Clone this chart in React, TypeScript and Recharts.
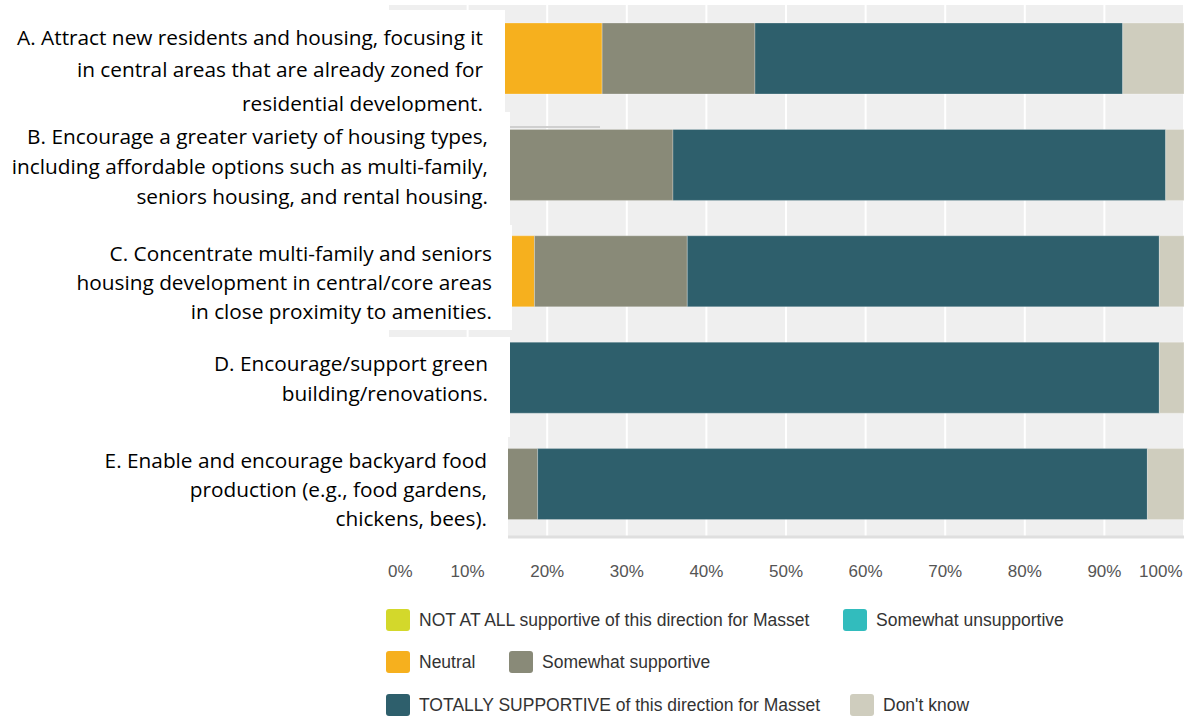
import React from "react";
import { BarChart, Bar, XAxis, YAxis, CartesianGrid } from "recharts";

// survey questions (rows of the chart)
const CATEGORIES = ["A", "B", "C", "D", "E"];

const LABEL_LINES = [
  ["A. Attract new residents and housing, focusing it", "in central areas that are already zoned for", "residential development."],
  ["B. Encourage a greater variety of housing types,", "including affordable options such as multi-family,", "seniors housing, and rental housing."],
  ["C. Concentrate multi-family and seniors", "housing development in central/core areas", "in close proximity to amenities."],
  ["D. Encourage/support green", "building/renovations."],
  ["E. Enable and encourage backyard food", "production (e.g., food gardens,", "chickens, bees)."],
];

// percent of responses per answer (left part of each bar is hidden under the label boxes)
const NOT_AT_ALL = [3.8, 0, 6.3, 3.1, 4.6];
const SOMEWHAT_UNSUPPORTIVE = [7.7, 2.2, 6.3, 0, 0];
const NEUTRAL = [15.4, 4.4, 5.8, 3.1, 4.6];
const SOMEWHAT_SUPPORTIVE = [19.2, 29.2, 19.2, 3.2, 9.6];
const TOTALLY = [46.2, 61.9, 59.3, 87.5, 76.6];
const DONT_KNOW = [7.7, 2.3, 3.1, 3.1, 4.6];

const X_TICKS = [0, 10, 20, 30, 40, 50, 60, 70, 80, 90, 100];

const SERIES = [
  { key: "notAtAll", name: "NOT AT ALL supportive of this direction for Masset", color: "#d3d82b", values: NOT_AT_ALL },
  { key: "unsupportive", name: "Somewhat unsupportive", color: "#32bcbd", values: SOMEWHAT_UNSUPPORTIVE },
  { key: "neutral", name: "Neutral", color: "#f6b01e", values: NEUTRAL },
  { key: "supportive", name: "Somewhat supportive", color: "#898a78", values: SOMEWHAT_SUPPORTIVE },
  { key: "totally", name: "TOTALLY SUPPORTIVE of this direction for Masset", color: "#2e5f6c", values: TOTALLY },
  { key: "dontKnow", name: "Don't know", color: "#cfcdbe", values: DONT_KNOW },
];

const rows = CATEGORIES.map((cat, i) => {
  const row: Record<string, string | number> = { cat };
  SERIES.forEach((s) => {
    row[s.key] = s.values[i];
  });
  return row;
});

// white boxes that sit over the left end of the bars
const LABEL_BOXES = [
  { top: 10, height: 102, width: 505, pad: 22, baselines: [44.5, 76.5, 110.5] },
  { top: 112, height: 113, width: 510, pad: 22, baselines: [143.5, 173.5, 203.5] },
  { top: 225, height: 105, width: 512, pad: 20, baselines: [260.5, 289.5, 318.5] },
  { top: 337, height: 100, width: 510, pad: 22, baselines: [370.5, 400.5] },
  { top: 437, height: 103, width: 508, pad: 21, baselines: [467.5, 496.5, 525.5] },
];

const LEGEND_LAYOUT = [
  { key: "notAtAll", left: 386, top: 609 },
  { key: "unsupportive", left: 843, top: 609 },
  { key: "neutral", left: 386, top: 651 },
  { key: "supportive", left: 509, top: 651 },
  { key: "totally", left: 386, top: 694 },
  { key: "dontKnow", left: 850, top: 694 },
];

const AXIS_FONT = "'Liberation Sans', Arial, sans-serif";
const LABEL_FONT = "'Open Sans', 'Noto Sans', sans-serif";

function PercentTick({ x, payload }: { x?: number; payload?: { value: number } }) {
  const v = payload?.value ?? 0;
  const px = x ?? 0;
  const anchor = v === 0 ? "start" : v === 100 ? "end" : "middle";
  const tx = v === 100 ? px - 1.5 : px;
  return (
    <text x={tx} y={577} textAnchor={anchor} fill="#555" fontSize={17} fontFamily={AXIS_FONT}>
      {v}%
    </text>
  );
}

export default function App() {
  return (
    <div style={{ position: "absolute", left: 0, top: 0, width: 1185, height: 717, background: "#fff", overflow: "hidden" }}>
      <BarChart
        width={1185}
        height={717}
        data={rows}
        layout="vertical"
        barSize={71}
        margin={{ top: 5, right: 1, left: 388, bottom: 140 }}
      >
        <CartesianGrid horizontal={false} stroke="#ffffff" strokeWidth={2} fill="#efefef" />
        <XAxis
          type="number"
          domain={[0, 100]}
          ticks={X_TICKS}
          interval={0}
          allowDataOverflow
          height={40}
          tickLine={false}
          axisLine={{ stroke: "#dfdfdf", strokeWidth: 3 }}
          tick={<PercentTick />}
        />
        <YAxis type="category" dataKey="cat" hide />
        {SERIES.map((s) => (
          <Bar
            key={s.key}
            dataKey={s.key}
            stackId="a"
            fill={s.color}
            stroke="#ffffff"
            strokeOpacity={0.25}
            strokeWidth={1}
            isAnimationActive={false}
          />
        ))}
      </BarChart>

      {/* leftover rule from the pasted label */}
      <div style={{ position: "absolute", left: 510, top: 126, width: 90, height: 2, background: "#cfcfcf" }} />

      {LABEL_BOXES.map((box, i) => (
        <div
          key={CATEGORIES[i]}
          style={{ position: "absolute", left: 0, top: box.top, width: box.width, height: box.height, background: "#fff" }}
        >
          {LABEL_LINES[i].map((line, j) => (
            <div
              key={j}
              style={{
                position: "absolute",
                right: box.pad,
                top: box.baselines[j] - box.top - 19,
                whiteSpace: "nowrap",
                fontFamily: LABEL_FONT,
                fontSize: 20.8,
                lineHeight: "22px",
                color: "#000",
              }}
            >
              {line}
            </div>
          ))}
        </div>
      ))}

      {LEGEND_LAYOUT.map((item) => {
        const s = SERIES.find((x) => x.key === item.key)!;
        return (
          <div
            key={item.key}
            style={{ position: "absolute", left: item.left, top: item.top, display: "flex", alignItems: "center", height: 22 }}
          >
            <div style={{ width: 24, height: 22, borderRadius: 3, background: s.color }} />
            <span style={{ marginLeft: 9, fontFamily: AXIS_FONT, fontSize: 17.5, color: "#333", whiteSpace: "nowrap" }}>
              {s.name}
            </span>
          </div>
        );
      })}
    </div>
  );
}
